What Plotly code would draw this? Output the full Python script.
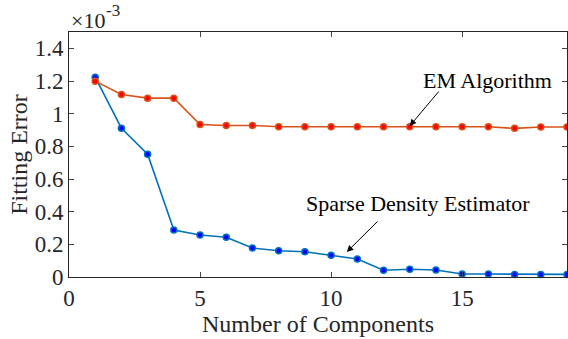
import plotly.graph_objects as go

components = list(range(1, 20))
# values in units of 1e-3
sparse_err = [1.223, 0.911, 0.752, 0.287, 0.257, 0.243, 0.177, 0.161, 0.155, 0.133,
              0.110, 0.041, 0.047, 0.043, 0.018, 0.018, 0.016, 0.016, 0.016]
em_err = [1.199, 1.117, 1.095, 1.095, 0.934, 0.928, 0.928, 0.920, 0.920, 0.920,
          0.920, 0.920, 0.920, 0.920, 0.920, 0.920, 0.910, 0.918, 0.918]
ytick_vals = [0, 0.2, 0.4, 0.6, 0.8, 1.0, 1.2, 1.4]
ytick_text = ["0", "0.2", "0.4", "0.6", "0.8", "1", "1.2", "1.4"]
xtick_vals = [0, 5, 10, 15]

FONT = "Liberation Serif"
AX = "#262626"
W, H = 568, 339
L, R, T, B = 69, 1, 32, 62
pw, ph = W - L - R, H - T - B
XMAX, YMAX = 19, 1.5


def px(xd):
    return L + xd * pw / XMAX


def py(yd):
    return T + ph - yd * ph / YMAX


def fx(p):
    return (p - L) / pw


def fy(p):
    return 1 - (p - T) / ph


fig = go.Figure()
fig.add_trace(go.Scatter(x=components, y=sparse_err, mode="lines+markers",
                         line=dict(color="#0072BD", width=1.6),
                         marker=dict(color="#0000FF", size=6, line=dict(color="#0072BD", width=1.5)),
                         showlegend=False, cliponaxis=False))
fig.add_trace(go.Scatter(x=components, y=em_err, mode="lines+markers",
                         line=dict(color="#D95319", width=1.6),
                         marker=dict(color="#FF0000", size=6, line=dict(color="#D95319", width=1.5)),
                         showlegend=False, cliponaxis=False))

# arrows
em_tip = (13, 0.925)
sp_tip = (10.6, 0.153)
fig.add_annotation(x=em_tip[0], y=em_tip[1], xref="x", yref="y",
                   ax=440 - px(em_tip[0]), ay=90 - py(em_tip[1]),
                   text="", showarrow=True, arrowhead=2, arrowsize=1.3, arrowwidth=1,
                   arrowcolor="black")
fig.add_annotation(x=sp_tip[0], y=sp_tip[1], xref="x", yref="y",
                   ax=379 - px(sp_tip[0]), ay=220 - py(sp_tip[1]),
                   text="", showarrow=True, arrowhead=2, arrowsize=1.3, arrowwidth=1,
                   arrowcolor="black")
fig.add_annotation(x=fx(487), y=fy(81), xref="paper", yref="paper", text="EM Algorithm",
                   showarrow=False, xanchor="center", yanchor="middle",
                   font=dict(family=FONT, size=22, color="black"))
fig.add_annotation(x=fx(418), y=fy(203), xref="paper", yref="paper",
                   text="Sparse Density Estimator",
                   showarrow=False, xanchor="center", yanchor="middle",
                   font=dict(family=FONT, size=22, color="black"))
# x10^-3 exponent label
fig.add_annotation(x=fx(70), y=fy(20), xref="paper", yref="paper", text="×10",
                   showarrow=False, xanchor="left", yanchor="middle", borderpad=0,
                   font=dict(family=FONT, size=22, color=AX))
fig.add_annotation(x=fx(105), y=fy(10), xref="paper", yref="paper", text="-3",
                   showarrow=False, xanchor="left", yanchor="middle", borderpad=0,
                   font=dict(family=FONT, size=17, color=AX))

fig.update_layout(
    width=W, height=H, margin=dict(l=L, r=R, t=T, b=B),
    paper_bgcolor="white", plot_bgcolor="white",
    font=dict(family=FONT, size=23, color=AX),
    xaxis=dict(range=[0, XMAX], tickvals=xtick_vals, ticks="inside", ticklen=5,
               showline=True, linecolor=AX, linewidth=1, mirror="ticks",
               showgrid=False, zeroline=False,
               title=dict(text="Number of Components", font=dict(size=24), standoff=2)),
    yaxis=dict(range=[0, YMAX], tickvals=ytick_vals, ticktext=ytick_text, ticks="inside",
               ticklen=5, showline=True, linecolor=AX, linewidth=1, mirror="ticks",
               showgrid=False, zeroline=False,
               title=dict(text="Fitting Error", font=dict(size=24), standoff=0)),
)
fig.write_html("out.html")
